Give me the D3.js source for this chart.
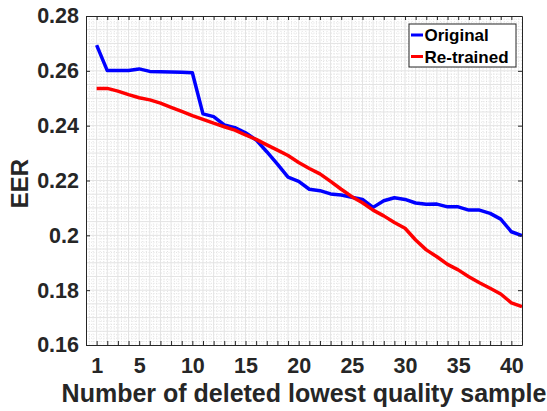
<!DOCTYPE html>
<html>
<head>
<meta charset="utf-8">
<script src="https://cdn.jsdelivr.net/npm/d3@7"></script>
<style>
  html, body { margin: 0; padding: 0; background: #fff; }
  svg { display: block; font-family: "Liberation Sans", Arial, Helvetica, sans-serif; }
</style>
</head>
<body>
<svg id="chart" width="547" height="411"></svg>
<script>
// Number of deleted lowest-quality samples (1..41)
const samples = d3.range(1, 42);

// EER of the original model
const original = [
  0.2694, 0.2601, 0.2601, 0.2601, 0.2607, 0.2598, 0.2597, 0.2596, 0.2595, 0.2593,
  0.2443, 0.2433, 0.2403, 0.2393, 0.2374, 0.2348, 0.2305, 0.2260, 0.2212, 0.2197,
  0.2168, 0.2163, 0.2151, 0.2147, 0.2139, 0.2131, 0.2102, 0.2126, 0.2137, 0.2131,
  0.2118, 0.2113, 0.2114, 0.2104, 0.2104, 0.2092, 0.2092, 0.2080, 0.2059, 0.2013,
  0.1999
];

// EER of the re-trained model
const retrained = [
  0.2536, 0.2536, 0.2526, 0.2513, 0.2502, 0.2494, 0.2482, 0.2467, 0.2452, 0.2437,
  0.2423, 0.2409, 0.2396, 0.2384, 0.2366, 0.2350, 0.2330, 0.2311, 0.2291, 0.2266,
  0.2244, 0.2224, 0.2197, 0.2168, 0.2141, 0.2119, 0.2092, 0.2071, 0.2047, 0.2026,
  0.1983, 0.1947, 0.1922, 0.1894, 0.1874, 0.1849, 0.1827, 0.1807, 0.1786, 0.1754,
  0.1740
];

const xTickLabels = [1, 5, 10, 15, 20, 25, 30, 35, 40];
const yTickLabels = [0.16, 0.18, 0.2, 0.22, 0.24, 0.26, 0.28];
const seriesNames = ["Original", "Re-trained"];
const seriesColors = ["#0000ff", "#ff0000"];

const svg = d3.select("#chart");
const margin = { left: 86, right: 25, top: 16, bottom: 66 };
const W = 547, H = 411;
const x0 = margin.left, x1 = W - margin.right, y0 = H - margin.bottom, y1 = margin.top;

const x = d3.scaleLinear().domain([0, 41]).range([x0, x1]);
const y = d3.scaleLinear().domain([0.16, 0.28]).range([y0, y1]);

const axisColor = "#262626";

// Grid: dotted minor lines, then solid light major lines
const grid = svg.append("g");
const minorX = [];
for (let i = 0; i < 41; i++) { minorX.push(i + 1 / 3, i + 2 / 3); }
const minorY = [];
for (let v = 0; v < 24; v++) { for (let k = 1; k < 4; k++) minorY.push(0.16 + v * 0.005 + k * 0.00125); }
grid.selectAll(".mx").data(minorX).join("line")
  .attr("x1", d => x(d)).attr("x2", d => x(d)).attr("y1", y1).attr("y2", y0)
  .attr("stroke", "#dcdcdc").attr("stroke-width", 0.8).attr("stroke-dasharray", "1,1.5");
grid.selectAll(".my").data(minorY).join("line")
  .attr("x1", x0).attr("x2", x1).attr("y1", d => y(d)).attr("y2", d => y(d))
  .attr("stroke", "#dcdcdc").attr("stroke-width", 0.8).attr("stroke-dasharray", "1,1.5");
grid.selectAll(".Mx").data(d3.range(1, 41)).join("line")
  .attr("x1", d => x(d)).attr("x2", d => x(d)).attr("y1", y1).attr("y2", y0)
  .attr("stroke", "#e3e3e3").attr("stroke-width", 1);
grid.selectAll(".My").data(d3.range(1, 24).map(k => 0.16 + k * 0.005)).join("line")
  .attr("x1", x0).attr("x2", x1).attr("y1", d => y(d)).attr("y2", d => y(d))
  .attr("stroke", "#e3e3e3").attr("stroke-width", 1);

// Series lines
const line = d3.line().x((d, i) => x(samples[i])).y(d => y(d));
[original, retrained].forEach((s, k) => {
  svg.append("path").datum(s)
    .attr("d", line).attr("fill", "none")
    .attr("stroke", seriesColors[k]).attr("stroke-width", 3.5)
    .attr("stroke-linejoin", "round");
});

// Axes (box with mirrored ticks)
const allX = d3.range(1, 41);
const fmtX = d => xTickLabels.includes(d) ? String(d) : "";
const axBottom = svg.append("g").attr("transform", `translate(0,${y0})`)
  .call(d3.axisBottom(x).tickValues(allX).tickFormat(fmtX).tickSizeInner(-4).tickSizeOuter(0).tickPadding(13));
const axTop = svg.append("g").attr("transform", `translate(0,${y1})`)
  .call(d3.axisTop(x).tickValues(allX).tickFormat("").tickSizeInner(-4).tickSizeOuter(0));
const axLeft = svg.append("g").attr("transform", `translate(${x0},0)`)
  .call(d3.axisLeft(y).tickValues(yTickLabels).tickFormat(d3.format("~g")).tickSizeInner(-4).tickSizeOuter(0).tickPadding(7));
const axRight = svg.append("g").attr("transform", `translate(${x1},0)`)
  .call(d3.axisRight(y).tickValues(yTickLabels).tickFormat("").tickSizeInner(-4).tickSizeOuter(0));

[axBottom, axTop, axLeft, axRight].forEach(g => {
  g.select(".domain").attr("stroke", axisColor).attr("stroke-width", 1);
  g.selectAll(".tick line").attr("stroke", axisColor).attr("stroke-width", 1);
  g.selectAll(".tick text").attr("fill", axisColor)
    .attr("font-size", 21.5).attr("font-weight", "bold")
    .attr("font-family", "'Liberation Sans', Arial, sans-serif");
});

// Axis titles
svg.append("text").attr("x", (x0 + x1) / 2).attr("y", 402)
  .attr("text-anchor", "middle").attr("fill", axisColor)
  .attr("font-size", 25).attr("font-weight", "bold")
  .text("Number of deleted lowest quality sample");
svg.append("text").attr("transform", `translate(28,${(y0 + y1) / 2 + 3}) rotate(-90)`)
  .attr("text-anchor", "middle").attr("fill", axisColor)
  .attr("font-size", 24).attr("font-weight", "bold")
  .text("EER");

// Legend
const lg = svg.append("g").attr("transform", "translate(409,24)");
lg.append("rect").attr("width", 107).attr("height", 43)
  .attr("fill", "#fff").attr("stroke", axisColor).attr("stroke-width", 1);
seriesNames.forEach((n, k) => {
  const yy = 11 + k * 21.5;
  lg.append("line").attr("x1", 2).attr("x2", 14).attr("y1", yy).attr("y2", yy)
    .attr("stroke", seriesColors[k]).attr("stroke-width", 3);
  lg.append("text").attr("x", 15.5).attr("y", yy + 6)
    .attr("font-size", 17).attr("font-weight", "bold").attr("fill", "#000")
    .text(n);
});
</script>
</body>
</html>
